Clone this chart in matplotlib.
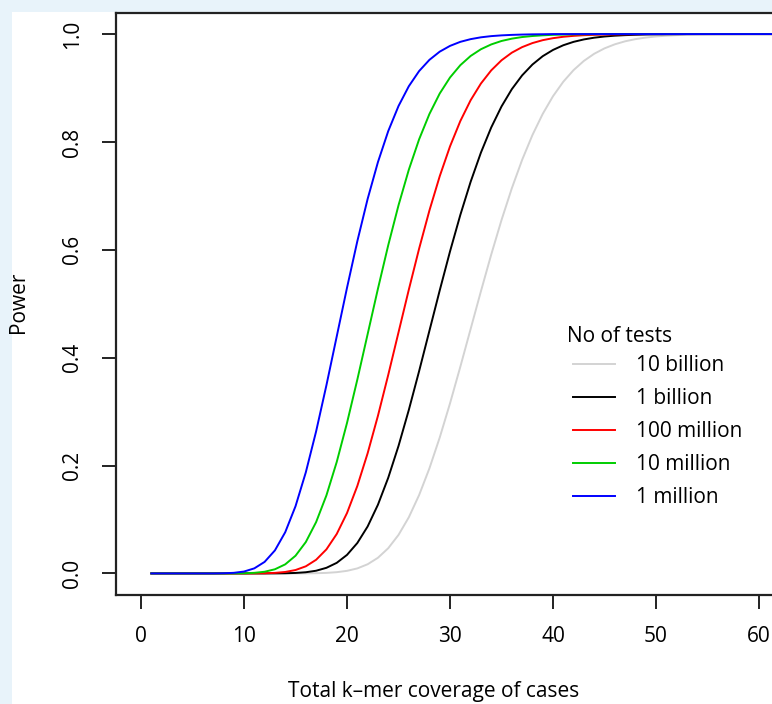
import numpy as np
import matplotlib
matplotlib.use("Agg")
import matplotlib.pyplot as plt
from matplotlib.patches import Rectangle

plt.rcParams['font.family'] = ['Open Sans', 'DejaVu Sans']

# total k-mer coverage of cases
coverage = list(range(1, 63))

# power for each number of tests
power_1m = [0, 0, 0, 0, 0, 0, 0, 0.0003, 0.0011, 0.0035,
            0.0094, 0.0214, 0.0427, 0.0764, 0.1246, 0.1875, 0.2634, 0.3489, 0.4393, 0.5297,
            0.6159, 0.6942, 0.7625, 0.8200, 0.8666, 0.9033, 0.9314, 0.9522, 0.9674, 0.9781,
            0.9856, 0.9906, 0.9940, 0.9962, 0.9976, 0.9985, 0.9991, 0.9995, 0.9997, 1.0,
            1.0, 1.0, 1.0, 1.0, 1.0, 1.0, 1.0, 1.0, 1.0, 1.0,
            1.0, 1.0, 1.0, 1.0, 1.0, 1.0, 1.0, 1.0, 1.0, 1.0,
            1.0, 1.0]
power_10m = [0, 0, 0, 0, 0, 0, 0, 0, 0.0001, 0.0003,
             0.0011, 0.0031, 0.0077, 0.0168, 0.0328, 0.0582, 0.0952, 0.1447, 0.2066, 0.2791,
             0.3593, 0.4435, 0.5277, 0.6084, 0.6826, 0.7485, 0.8049, 0.8518, 0.8898, 0.9195,
             0.9423, 0.9594, 0.9719, 0.9808, 0.9872, 0.9915, 0.9945, 0.9964, 0.9977, 0.9986,
             0.9991, 0.9994, 0.9996, 0.9998, 1.0, 1.0, 1.0, 1.0, 1.0, 1.0,
             1.0, 1.0, 1.0, 1.0, 1.0, 1.0, 1.0, 1.0, 1.0, 1.0,
             1.0, 1.0]
power_100m = [0, 0, 0, 0, 0, 0, 0, 0, 0, 0,
              0.0001, 0.0003, 0.0010, 0.0027, 0.0063, 0.0132, 0.0253, 0.0446, 0.0731, 0.1120,
              0.1621, 0.2227, 0.2921, 0.3679, 0.4470, 0.5261, 0.6022, 0.6729, 0.7364, 0.7918,
              0.8387, 0.8773, 0.9083, 0.9327, 0.9514, 0.9655, 0.9758, 0.9833, 0.9887, 0.9924,
              0.9950, 0.9967, 0.9979, 0.9986, 0.9991, 0.9994, 0.9996, 0.9998, 1.0, 1.0,
              1.0, 1.0, 1.0, 1.0, 1.0, 1.0, 1.0, 1.0, 1.0, 1.0,
              1.0, 1.0]
power_1b = [0, 0, 0, 0, 0, 0, 0, 0, 0, 0,
            0, 0, 0.0001, 0.0003, 0.0009, 0.0022, 0.0050, 0.0104, 0.0196, 0.0344,
            0.0564, 0.0870, 0.1273, 0.1773, 0.2364, 0.3031, 0.3751, 0.4499, 0.5247, 0.5970,
            0.6646, 0.7260, 0.7802, 0.8268, 0.8658, 0.8978, 0.9234, 0.9435, 0.9590, 0.9706,
            0.9793, 0.9856, 0.9901, 0.9933, 0.9955, 0.9970, 0.9980, 0.9987, 0.9992, 0.9995,
            0.9997, 0.9998, 1.0, 1.0, 1.0, 1.0, 1.0, 1.0, 1.0, 1.0,
            1.0, 1.0]
power_10b = [0, 0, 0, 0, 0, 0, 0, 0, 0, 0,
             0, 0, 0, 0, 0, 0.0001, 0.0004, 0.0010, 0.0023, 0.0048,
             0.0093, 0.0170, 0.0290, 0.0467, 0.0714, 0.1041, 0.1453, 0.1948, 0.2519, 0.3153,
             0.3831, 0.4531, 0.5231, 0.5911, 0.6552, 0.7140, 0.7667, 0.8127, 0.8520, 0.8848,
             0.9117, 0.9333, 0.9503, 0.9635, 0.9735, 0.9810, 0.9866, 0.9906, 0.9935, 0.9956,
             0.9970, 0.9980, 0.9987, 0.9991, 0.9994, 0.9996, 0.9997, 0.9998, 1.0, 1.0,
             1.0, 1.0]

labels = ['10 billion', '1 billion', '100 million', '10 million', '1 million']
colors = ['#d3d3d3', '#000000', '#ff0000', '#00cd00', '#0000ff']
series = [power_10b, power_1b, power_100m, power_10m, power_1m]

W, H = 772, 704
fig = plt.figure(figsize=(W / 100, H / 100), dpi=100)
fig.patch.set_facecolor('#e8f3fa')
# white plotting page behind the axes
fig.patches.append(Rectangle((12 / W, 0), 1, 1 - 12 / H, transform=fig.transFigure,
                             facecolor='white', edgecolor='none', zorder=-5))

ax = fig.add_axes([116 / W, 109 / H, 918 / W, 582.5 / H])
ax.set_facecolor('none')

# draw from back to front so 1 million ends on top
for vals, col, lab in zip(series, colors, labels):
    ax.plot(coverage, vals, color=col, lw=1.4, label=lab)

ax.set_xlim(-2.43, 86.7)
ax.set_ylim(-0.04, 1.04)
ax.set_xticks([0, 10, 20, 30, 40, 50, 60])
ax.set_yticks([0.0, 0.2, 0.4, 0.6, 0.8, 1.0])
ax.set_yticklabels(['0.0', '0.2', '0.4', '0.6', '0.8', '1.0'], rotation=90, va='center')
ax.tick_params(direction='out', length=10, width=1.4, labelsize=15, color='#222222', pad=12)
ax.tick_params(axis='y', pad=14)
for sp in ax.spines.values():
    sp.set_linewidth(1.6)
    sp.set_color('#222222')

fig.text(434 / W, 1 - 692 / H, 'Total k\u2013mer coverage of cases', ha='center', va='center',
         fontsize=15)
fig.text(19 / W, 1 - 302 / H, 'Power', ha='center', va='center', rotation=90, fontsize=15)

# legend with its title set a little to the left of the keys
fig.text(567 / W, 1 - 336 / H, 'No of tests', ha='left', va='center', fontsize=15)
leg = ax.legend(frameon=False, fontsize=15, loc='upper left',
                bbox_to_anchor=(565 / W, 1 - 347 / H), bbox_transform=fig.transFigure,
                borderaxespad=0, handlelength=2.0, handletextpad=1.0, labelspacing=0.57)

fig.savefig('out.png', dpi=100)
